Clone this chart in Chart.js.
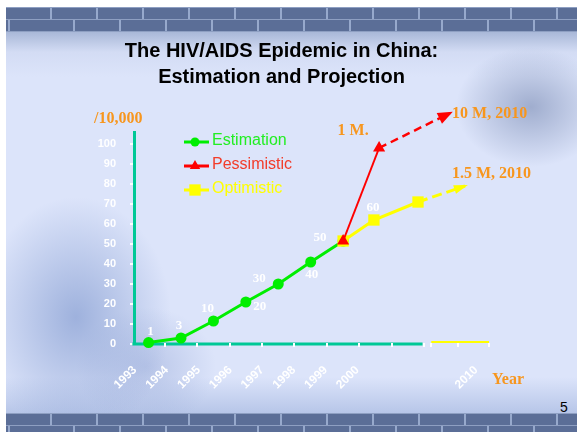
<!DOCTYPE html>
<html>
<head>
<meta charset="utf-8">
<title>The HIV/AIDS Epidemic in China</title>
<script src="https://cdn.jsdelivr.net/npm/chart.js@4.4.1/dist/chart.umd.min.js"></script>
<style>
    html, body { margin: 0; padding: 0; background: #fff; }
    #slide { position: relative; width: 577px; height: 432px; overflow: hidden; background: #fff; }
    #bg {
        position: absolute; left: 6px; top: 7px; width: 571px; height: 425px;
        background:
            radial-gradient(ellipse 95px 120px at 70px 310px, rgba(125,150,205,0.65), rgba(125,150,205,0)),
            radial-gradient(ellipse 70px 60px at 140px 360px, rgba(140,160,210,0.45), rgba(140,160,210,0)),
            radial-gradient(ellipse 75px 60px at 525px 100px, rgba(110,128,170,0.55), rgba(110,128,170,0)),
            linear-gradient(to bottom, #a9b8d8 25px, #d3dcf4 45px, #dce4fa 70px, #dce4fa 370px, #b7c6e8 406px);
    }
    .band { position: absolute; left: 0; width: 571px; background: #8e9fc2; }
    .band div { height: 11px; margin-top: 1px;
        background: repeating-linear-gradient(90deg, #5b6e97 0 44px, #97a9cc 44px 46px); }
    .band div.b { background-position: 23px 0; }
    #num { position: absolute; left: 560px; top: 399px; font: 14px "Liberation Sans", Arial, sans-serif; color: #000; }
    canvas { position: absolute; left: 0; top: 0; }
</style>
</head>
<body>
<div id="slide">
    <div id="bg">
        <div class="band" style="top:0;height:25px"><div></div><div class="b"></div></div>
        <div class="band" style="top:406px;height:19px"><div></div><div class="b"></div></div>
    </div>
    <div id="num">5</div>
    <canvas id="myChart" width="577" height="432"></canvas>
</div>
<script>
// values, unit = 10,000 people
var years = ["1993", "1994", "1995", "1996", "1997", "1998", "1999", "2000", "2010"];
var yearTickPos = [-0.42, 0.56, 1.54, 2.52, 3.5, 4.48, 5.46, 6.44, 10.1];

var estimation = [0.7, 3, 11.5, 21, 30, 41, 51.5];
var estimationLabels = ["1", "3", "10", "20", "30", "40", "50"];

var pessimisticX = [6, 7.11];
var pessimistic = [51.5, 98];
var pessimisticProjX = [7.11, 9.3];
var pessimisticProj = [98, 115.5];

var optimisticX = [6, 6.95, 8.31];
var optimistic = [51.5, 62, 71];
var optimisticLabels = ["", "60", ""];
var optimisticProjX = [8.31, 9.76];
var optimisticProj = [71, 79];

var xAxisMarks = [0.5, 1.5, 2.5, 3.5, 4.5, 5.5, 6.5, 7.5, 8.5, 8.72, 9.55, 10.5];

var GREEN = "#00ee00", RED = "#ff0000", YELLOW = "#ffff00";
var AXIS = "#00c896", ORANGE = "#f7961e";
var SANS = '"Liberation Sans", Arial, sans-serif';
var SERIF = '"Liberation Serif", "Times New Roman", serif';

function toPoints(xs, ys) {
    return ys.map(function (v, i) { return { x: xs[i], y: v }; });
}

var decor = {
    id: "decor",
    beforeDatasetsDraw: function (chart) {
        var ctx = chart.ctx, x = chart.scales.x, y0 = chart.chartArea.bottom;
        ctx.save();
        // broken x axis: teal up to 2000, yellow stub for 2010
        ctx.lineWidth = 3;
        ctx.strokeStyle = AXIS;
        ctx.beginPath();
        ctx.moveTo(x.getPixelForValue(-0.5), y0);
        ctx.lineTo(x.getPixelForValue(8.45), y0);
        ctx.stroke();
        ctx.lineWidth = 2;
        ctx.strokeStyle = YELLOW;
        ctx.beginPath();
        ctx.moveTo(x.getPixelForValue(8.72), y0 - 2);
        ctx.lineTo(x.getPixelForValue(10.5), y0 - 2);
        ctx.stroke();
        ctx.strokeStyle = "#fff";
        xAxisMarks.forEach(function (v) {
            var px = Math.round(x.getPixelForValue(v));
            ctx.beginPath();
            ctx.moveTo(px, y0 - 1);
            ctx.lineTo(px, y0 + 3);
            ctx.stroke();
        });
        ctx.restore();
    },
    afterDatasetsDraw: function (chart, args, opts) {
        var ctx = chart.ctx, area = chart.chartArea;
        ctx.save();

        // arrow heads at the end of the projections
        chart.data.datasets.forEach(function (ds, i) {
            if (!ds.arrow) return;
            var pts = chart.getDatasetMeta(i).data;
            var a = pts[pts.length - 2], b = pts[pts.length - 1];
            var ang = Math.atan2(b.y - a.y, b.x - a.x);
            ctx.save();
            ctx.translate(b.x, b.y);
            ctx.rotate(ang);
            ctx.fillStyle = ds.borderColor;
            ctx.beginPath();
            ctx.moveTo(3, 0);
            ctx.lineTo(3 - ds.arrow[0], -ds.arrow[1]);
            ctx.lineTo(3 - ds.arrow[0], ds.arrow[1]);
            ctx.closePath();
            ctx.fill();
            ctx.restore();
        });

        // white value labels
        ctx.fillStyle = "#fff";
        ctx.font = "bold 13px " + SERIF;
        ctx.textAlign = "center";
        ctx.textBaseline = "middle";
        chart.data.datasets.forEach(function (ds, i) {
            if (!ds.valueLabels) return;
            var pts = chart.getDatasetMeta(i).data;
            var offs = opts.labelOffsets[i] || [];
            ds.valueLabels.forEach(function (t, j) {
                if (!t) return;
                var o = offs[j] || [0, -12];
                ctx.fillText(t, pts[j].x + o[0], pts[j].y + o[1]);
            });
        });

        // orange notes
        var pess = chart.getDatasetMeta(1).data;
        var pessEnd = chart.getDatasetMeta(2).data[1];
        var optEnd = chart.getDatasetMeta(4).data[1];
        ctx.fillStyle = ORANGE;
        ctx.font = "bold 16px " + SERIF;
        ctx.textAlign = "left";
        ctx.fillText("/10,000", area.left - 40, area.top - 13);
        ctx.fillText("10 M, 2010", pessEnd.x + 2, pessEnd.y + 1);
        ctx.fillText("1.5 M, 2010", optEnd.x - 13, optEnd.y - 12);
        ctx.textAlign = "center";
        ctx.fillText("1 M.", pess[1].x - 26, pess[1].y - 17);
        ctx.fillText("Year", area.right + 19, area.bottom + 36);

        // legend: line + marker + coloured text
        var lx = area.left + 50, ly = area.top + 9;
        ctx.font = "16px " + SANS;
        ctx.textAlign = "left";
        opts.legend.forEach(function (item, k) {
            var ds = chart.data.datasets[item.dataset];
            var yy = ly + k * 24;
            ctx.strokeStyle = ds.borderColor;
            ctx.lineWidth = 3;
            ctx.beginPath();
            ctx.moveTo(lx, yy + 1);
            ctx.lineTo(lx + 25, yy + 1);
            ctx.stroke();
            ctx.fillStyle = ds.borderColor;
            Chart.helpers.drawPoint(ctx, { pointStyle: ds.pointStyle, radius: item.radius, borderWidth: 0, rotation: 0 }, lx + 11, yy + 1);
            ctx.fillStyle = item.color;
            ctx.fillText(ds.label, lx + 28, yy);
        });

        ctx.restore();
    }
};

var ctx = document.getElementById("myChart").getContext("2d");
var myChart = new Chart(ctx, {
    type: "line",
    data: {
        datasets: [
            {
                label: "Estimation",
                data: estimation.map(function (v, i) { return { x: i, y: v }; }),
                valueLabels: estimationLabels,
                borderColor: GREEN,
                backgroundColor: GREEN,
                borderWidth: 3,
                pointStyle: "circle",
                pointRadius: 5.5,
                pointBorderWidth: 0,
                order: 3,
                clip: false
            },
            {
                label: "Pessimistic",
                data: toPoints(pessimisticX, pessimistic),
                borderColor: RED,
                backgroundColor: RED,
                borderWidth: 2,
                pointStyle: "triangle",
                pointRadius: 7,
                pointBorderWidth: 0,
                order: 0,
                clip: false
            },
            {
                label: "Pessimistic projection",
                data: toPoints(pessimisticProjX, pessimisticProj),
                borderColor: RED,
                borderWidth: 2.5,
                borderDash: [8, 5],
                pointRadius: 0,
                arrow: [15, 6],
                order: 1,
                clip: false
            },
            {
                label: "Optimistic",
                data: toPoints(optimisticX, optimistic),
                valueLabels: optimisticLabels,
                borderColor: YELLOW,
                backgroundColor: YELLOW,
                borderWidth: 3,
                pointStyle: "rect",
                pointRadius: 8,
                pointBorderWidth: 0,
                order: 2,
                clip: false
            },
            {
                label: "Optimistic projection",
                data: toPoints(optimisticProjX, optimisticProj),
                borderColor: YELLOW,
                borderWidth: 3,
                borderDash: [10, 5],
                pointRadius: 0,
                arrow: [14, 4.5],
                order: 2,
                clip: false
            }
        ]
    },
    options: {
        responsive: false,
        animation: false,
        devicePixelRatio: 1,
        layout: { padding: { left: 74, right: 88, top: 0, bottom: 0 } },
        plugins: {
            legend: { display: false },
            tooltip: { enabled: false },
            title: {
                display: true,
                text: ["The HIV/AIDS Epidemic in China:", "Estimation and Projection"],
                color: "#000",
                font: { family: SANS, size: 20, weight: "bold", lineHeight: 1.3 },
                padding: { top: 38, bottom: 42 }
            },
            decor: {
                labelOffsets: {
                    0: [[2, -11], [-2, -12], [-6, -12], [14, 5], [-19, -5], [1, 13], [-23, -3]],
                    3: [[0, -12], [-1, -12], [0, -12]]
                },
                legend: [
                    { dataset: 0, color: "#22ee22", radius: 4.5 },
                    { dataset: 1, color: "#f23c2a", radius: 6 },
                    { dataset: 3, color: "#ffff00", radius: 8 }
                ]
            }
        },
        scales: {
            x: {
                type: "linear",
                min: -0.45,
                max: 10.5,
                border: { display: false },
                grid: { display: false, drawTicks: false },
                afterBuildTicks: function (scale) {
                    scale.ticks = yearTickPos.map(function (v) { return { value: v }; });
                },
                afterFit: function (scale) { scale.height = 88; },
                ticks: {
                    autoSkip: false,
                    minRotation: 45,
                    maxRotation: 45,
                    padding: 19,
                    color: "#fff",
                    font: { family: SANS, size: 12, weight: "bold" },
                    callback: function (value, index) { return years[index]; }
                }
            },
            y: {
                min: 0,
                max: 106,
                afterFit: function (scale) { scale.width = 60; },
                border: { color: AXIS, width: 3 },
                grid: { drawOnChartArea: false, color: "#fff", lineWidth: 2, tickLength: 4 },
                ticks: {
                    stepSize: 10,
                    includeBounds: false,
                    padding: 14,
                    color: "#fff",
                    font: { family: SANS, size: 11, weight: "bold" }
                }
            }
        }
    },
    plugins: [decor]
});
</script>
</body>
</html>
